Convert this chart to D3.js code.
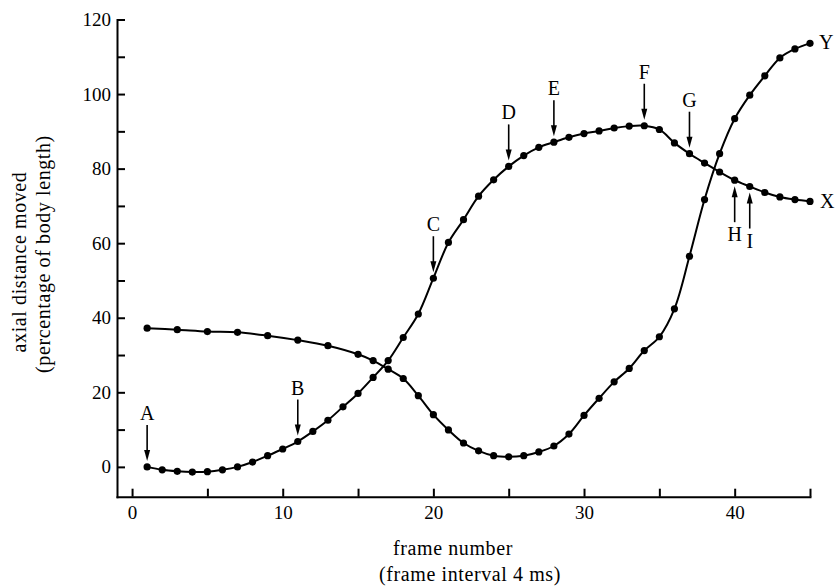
<!DOCTYPE html>
<html>
<head>
<meta charset="utf-8">
<script src="https://cdn.jsdelivr.net/npm/d3@7"></script>
<style>
  html, body { margin: 0; padding: 0; background: #fff; }
  svg text { font-family: 'Liberation Serif', 'DejaVu Serif', serif; fill: #000; }
  .axis path, .axis line { stroke: #000; stroke-width: 2; }
  .axis text { font-size: 19px; }
  .curve { fill: none; stroke: #000; stroke-width: 2; }
  .title { font-size: 20px; letter-spacing: 0.6px; }
</style>
</head>
<body>
<svg id="chart" width="838" height="587"></svg>
<script>
// curve X: every frame
const framesX = [1, 2, 3, 4, 5, 6, 7, 8, 9, 10, 11, 12, 13, 14, 15, 16, 17, 18, 19, 20, 21, 22, 23,
  24, 25, 26, 27, 28, 29, 30, 31, 32, 33, 34, 35, 36, 37, 38, 39, 40, 41, 42, 43, 44, 45];
const distX = [0.0, -0.8, -1.2, -1.4, -1.3, -0.8, 0.0, 1.3, 3.0, 4.8, 6.8, 9.5, 12.5, 16.1, 19.7,
  24.0, 28.5, 34.7, 41.0, 50.6, 60.2, 66.3, 72.6, 77.0, 80.6, 83.5, 85.7, 87.1, 88.4, 89.4, 90.1,
  90.9, 91.4, 91.5, 90.5, 86.9, 84.0, 81.5, 79.1, 76.9, 75.2, 73.6, 72.4, 71.7, 71.2];

// curve Y: every second frame at first
const framesY = [1, 3, 5, 7, 9, 11, 13, 15, 16, 17, 18, 19, 20, 21, 22, 23, 24, 25, 26, 27, 28, 29,
  30, 31, 32, 33, 34, 35, 36, 37, 38, 39, 40, 41, 42, 43, 44, 45];
const distY = [37.2, 36.8, 36.3, 36.1, 35.2, 34.0, 32.5, 30.2, 28.5, 26.2, 23.7, 19.1, 14.0, 9.9,
  6.4, 4.3, 3.0, 2.7, 3.0, 4.0, 5.6, 8.8, 13.8, 18.4, 22.8, 26.4, 31.2, 34.9, 42.4, 56.5, 71.7,
  84.0, 93.4, 99.7, 104.9, 109.7, 112.1, 113.6];

// arrows on curve X
const markLabels = ['A', 'B', 'C', 'D', 'E', 'F', 'G', 'H', 'I'];
const markFrames = [1, 11, 20, 25, 28, 34, 37, 40, 41];
const markFromBelow = [false, false, false, false, false, false, false, true, true];

const xTicks = [0, 5, 10, 15, 20, 25, 30, 35, 40, 45];
const yTicks = [0, 10, 20, 30, 40, 50, 60, 70, 80, 90, 100, 110, 120];

const svg = d3.select('#chart');

const x = d3.scaleLinear().domain([-1, 45]).range([117, 810]);
const y = d3.scaleLinear().domain([-8, 120]).range([496.7, 19.5]);

svg.append('g')
  .attr('class', 'axis')
  .attr('transform', `translate(0,${y(-8)})`)
  .call(d3.axisBottom(x).tickValues(xTicks).tickSizeInner(-8).tickSizeOuter(0).tickPadding(9)
    .tickFormat(d => (d % 10 === 0 ? d : '')));

svg.append('g')
  .attr('class', 'axis')
  .attr('transform', `translate(${x(-1)},0)`)
  .call(d3.axisLeft(y).tickValues(yTicks).tickSizeInner(-8).tickSizeOuter(0).tickPadding(6)
    .tickFormat(d => (d % 20 === 0 ? d : '')));

svg.selectAll('.axis .domain').attr('stroke-linecap', 'square');

const line = d3.line().x(d => x(d[0])).y(d => y(d[1])).curve(d3.curveCatmullRom);

const seriesX = framesX.map((f, i) => [f, distX[i]]);
const seriesY = framesY.map((f, i) => [f, distY[i]]);

[seriesX, seriesY].forEach(series => {
  svg.append('path').datum(series).attr('class', 'curve').attr('d', line);
  svg.append('g').selectAll('circle').data(series).join('circle')
    .attr('cx', d => x(d[0]))
    .attr('cy', d => y(d[1]))
    .attr('r', 3.6)
    .attr('fill', '#000');
});

// curve names at the right end
const lastX = seriesX[seriesX.length - 1];
const lastY = seriesY[seriesY.length - 1];
svg.append('text').attr('x', x(lastX[0]) + 10).attr('y', y(lastX[1]) + 7)
  .style('font-size', '20px').text('X');
svg.append('text').attr('x', x(lastY[0]) + 9).attr('y', y(lastY[1]) + 6)
  .style('font-size', '20px').text('Y');

// lettered arrows
const GAP = 6;
const ARROW = 36;
markLabels.forEach((label, i) => {
  const f = markFrames[i];
  const px = x(f);
  const py = y(distX[framesX.indexOf(f)]);
  const s = markFromBelow[i] ? 1 : -1;
  const tip = py + s * GAP;
  const base = tip + s * ARROW;
  svg.append('line')
    .attr('x1', px).attr('y1', base)
    .attr('x2', px).attr('y2', tip + s * 8)
    .attr('stroke', '#000').attr('stroke-width', 1.6);
  svg.append('path')
    .attr('d', `M${px - 3},${tip + s * 11}L${px},${tip}L${px + 3},${tip + s * 11}Z`)
    .attr('fill', '#000');
  svg.append('text')
    .attr('x', px)
    .attr('y', base + s * 12)
    .attr('dy', '0.35em')
    .attr('text-anchor', 'middle')
    .style('font-size', '20px')
    .text(label);
});

// axis titles
svg.append('text').attr('class', 'title').attr('transform', 'translate(26,262) rotate(-90)')
  .attr('text-anchor', 'middle').text('axial distance moved');
svg.append('text').attr('class', 'title').attr('transform', 'translate(50,254) rotate(-90)')
  .attr('text-anchor', 'middle').text('(percentage of body length)');
svg.append('text').attr('class', 'title').attr('x', 453).attr('y', 555)
  .attr('text-anchor', 'middle').text('frame number');
svg.append('text').attr('class', 'title').attr('x', 470).attr('y', 581)
  .attr('text-anchor', 'middle').text('(frame interval 4 ms)');
</script>
</body>
</html>
